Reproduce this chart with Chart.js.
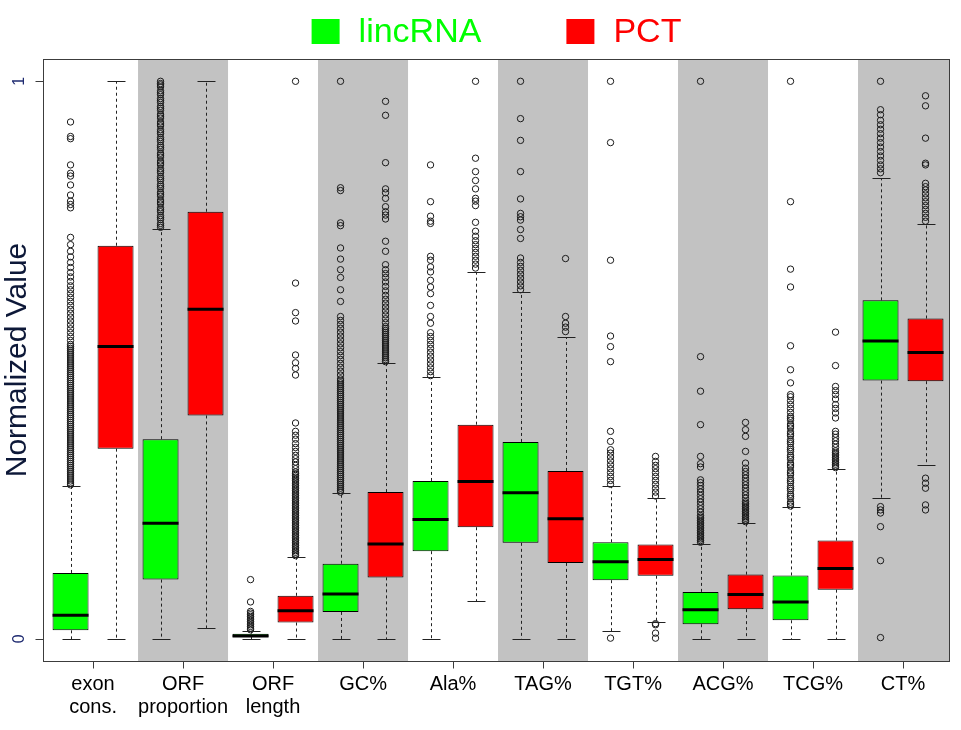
<!DOCTYPE html>
<html>
<head>
<meta charset="utf-8">
<script src="https://cdn.jsdelivr.net/npm/chart.js@4.4.1/dist/chart.umd.min.js"></script>
<style>
  html, body { margin: 0; padding: 0; background: #fff; }
  #wrap { width: 961px; height: 730px; position: relative; }
</style>
</head>
<body>
<div id="wrap"><canvas id="box"></canvas></div>
<script>
// categories (x axis) and legend series
const categories = [['exon', 'cons.'], ['ORF', 'proportion'], ['ORF', 'length'], 'GC%', 'Ala%', 'TAG%', 'TGT%', 'ACG%', 'TCG%', 'CT%'];
const seriesNames = ['lincRNA', 'PCT'];
const yTickValues = [0, 1];

// lincRNA box statistics
const lincQ1     = [0.015, 0.106, 0.003, 0.048, 0.157, 0.172, 0.105, 0.026, 0.033, 0.463];
const lincMedian = [0.042, 0.207, 0.005, 0.080, 0.214, 0.262, 0.138, 0.052, 0.066, 0.534];
const lincQ3     = [0.118, 0.358, 0.009, 0.1345, 0.283, 0.353, 0.173, 0.084, 0.1135, 0.607];
const lincLow    = [0, 0, 0, 0, 0, 0, 0.013, 0, 0, 0.252];
const lincHigh   = [0.274, 0.735, 0.014, 0.261, 0.470, 0.622, 0.274, 0.170, 0.2355, 0.826];

// PCT box statistics
const pctQ1     = [0.341, 0.4005, 0.029, 0.110, 0.200, 0.136, 0.113, 0.053, 0.088, 0.462];
const pctMedian = [0.524, 0.591, 0.050, 0.170, 0.282, 0.215, 0.142, 0.0795, 0.126, 0.5135];
const pctQ3     = [0.705, 0.766, 0.077, 0.263, 0.384, 0.301, 0.169, 0.115, 0.176, 0.5745];
const pctLow    = [0, 0.019, 0, 0, 0.067, 0, 0.030, 0, 0, 0.312];
const pctHigh   = [1.0, 1.0, 0.1465, 0.495, 0.658, 0.541, 0.253, 0.2075, 0.305, 0.744];

// outliers
const lincOutliers = [
  [0.276,0.2795,0.283,0.2865,0.29,0.2935,0.297,0.3005,0.304,0.3075,0.311,0.3145,0.318,0.3215,0.325,0.3285,0.332,0.3355,0.339,0.3425,0.346,0.3495,0.353,0.3565,0.36,0.3635,0.367,0.3705,0.374,0.3775,0.381,0.3845,0.388,0.3915,0.395,0.3985,0.402,0.4055,0.409,0.4125,0.416,0.4195,0.423,0.4265,0.43,0.4335,0.437,0.4405,0.444,0.4475,0.451,0.4545,0.458,0.4615,0.465,0.4685,0.472,0.4755,0.479,0.4825,0.486,0.4895,0.493,0.4965,0.5,0.5035,0.507,0.5105,0.514,0.5175,0.521,0.5245,0.528,0.535,0.542,0.549,0.556,0.563,0.57,0.577,0.584,0.591,0.598,0.605,0.612,0.619,0.626,0.633,0.641,0.649,0.657,0.666,0.675,0.685,0.695,0.707,0.72,0.773,0.779,0.785,0.796,0.814,0.83,0.835,0.85,0.897,0.901,0.927],
  [0.738,0.7415,0.745,0.752,0.7555,0.759,0.766,0.7695,0.773,0.78,0.7835,0.787,0.794,0.7975,0.801,0.808,0.8115,0.815,0.822,0.8255,0.829,0.836,0.8395,0.843,0.85,0.8535,0.857,0.864,0.8675,0.871,0.878,0.8815,0.885,0.892,0.8955,0.899,0.906,0.9095,0.913,0.92,0.9235,0.927,0.934,0.9375,0.941,0.948,0.9515,0.955,0.962,0.9655,0.969,0.976,0.9795,0.983,0.99,0.9935,0.996,1.0],
  [0.016,0.019,0.022,0.025,0.028,0.031,0.034,0.037,0.04,0.043,0.046,0.049,0.066,0.106],
  [0.263,0.2665,0.27,0.2735,0.277,0.2805,0.284,0.2875,0.291,0.2945,0.298,0.3015,0.305,0.3085,0.312,0.3155,0.319,0.3225,0.326,0.3295,0.333,0.3365,0.34,0.3435,0.347,0.3505,0.354,0.3575,0.361,0.3645,0.368,0.3715,0.375,0.3785,0.382,0.3855,0.389,0.3925,0.396,0.3995,0.403,0.4065,0.41,0.4135,0.417,0.4205,0.424,0.4275,0.431,0.4345,0.438,0.4415,0.445,0.4485,0.452,0.4555,0.459,0.4625,0.466,0.473,0.48,0.487,0.494,0.501,0.508,0.515,0.522,0.529,0.536,0.543,0.55,0.557,0.564,0.571,0.578,0.605,0.626,0.648,0.662,0.681,0.701,0.741,0.746,0.804,0.809,1.0],
  [0.472,0.479,0.486,0.493,0.5,0.507,0.514,0.521,0.528,0.535,0.542,0.549,0.566,0.578,0.598,0.619,0.631,0.643,0.658,0.667,0.679,0.686,0.745,0.749,0.758,0.784,0.85],
  [0.626,0.633,0.64,0.647,0.654,0.661,0.668,0.675,0.683,0.718,0.734,0.751,0.757,0.763,0.789,0.838,0.894,0.933,1.0],
  [0.001,0.277,0.284,0.291,0.298,0.305,0.312,0.319,0.326,0.333,0.339,0.354,0.372,0.497,0.524,0.543,0.679,0.89,1.0],
  [0.173,0.176,0.179,0.182,0.185,0.188,0.191,0.194,0.197,0.2,0.203,0.206,0.209,0.212,0.215,0.218,0.221,0.227,0.233,0.239,0.245,0.251,0.257,0.263,0.269,0.275,0.28,0.285,0.308,0.314,0.327,0.384,0.444,0.506,1.0],
  [0.238,0.2415,0.245,0.252,0.2555,0.259,0.266,0.2695,0.273,0.28,0.2835,0.287,0.294,0.2975,0.301,0.308,0.3115,0.315,0.322,0.3255,0.329,0.336,0.3395,0.343,0.35,0.3535,0.357,0.364,0.3675,0.371,0.378,0.3815,0.385,0.392,0.3955,0.399,0.406,0.413,0.42,0.427,0.434,0.438,0.459,0.4825,0.5255,0.631,0.663,0.784,1.0],
  [0.002,0.14,0.201,0.2255,0.231,0.237,0.836,0.843,0.85,0.858,0.866,0.874,0.882,0.89,0.898,0.906,0.914,0.922,0.93,0.94,0.949,1.0]
];
const pctOutliers = [
  [],
  [],
  [0.149,0.152,0.155,0.158,0.161,0.164,0.167,0.17,0.173,0.176,0.179,0.182,0.185,0.188,0.191,0.194,0.197,0.2,0.203,0.206,0.209,0.212,0.215,0.218,0.221,0.224,0.227,0.23,0.233,0.236,0.239,0.242,0.245,0.248,0.251,0.254,0.257,0.26,0.263,0.266,0.269,0.272,0.275,0.278,0.281,0.284,0.287,0.29,0.293,0.296,0.299,0.305,0.311,0.317,0.323,0.329,0.336,0.343,0.35,0.358,0.365,0.372,0.387,0.473,0.485,0.495,0.509,0.57,0.585,0.638,1.0],
  [0.497,0.5005,0.504,0.5075,0.511,0.5145,0.518,0.5215,0.525,0.5285,0.532,0.5355,0.539,0.5425,0.546,0.5495,0.553,0.5565,0.56,0.567,0.574,0.581,0.588,0.595,0.602,0.609,0.616,0.624,0.632,0.64,0.648,0.655,0.662,0.671,0.695,0.713,0.753,0.76,0.766,0.775,0.79,0.8,0.807,0.854,0.939,0.964],
  [0.665,0.672,0.679,0.686,0.693,0.7,0.707,0.714,0.722,0.731,0.747,0.777,0.785,0.79,0.807,0.822,0.838,0.862,1.0],
  [0.551,0.559,0.566,0.578,0.682],
  [0.001,0.01,0.025,0.027,0.256,0.263,0.27,0.277,0.284,0.291,0.298,0.305,0.311,0.318,0.327],
  [0.21,0.213,0.216,0.219,0.222,0.225,0.228,0.231,0.234,0.237,0.24,0.243,0.246,0.252,0.258,0.264,0.27,0.276,0.282,0.288,0.294,0.3,0.306,0.315,0.336,0.363,0.375,0.388],
  [0.307,0.31,0.313,0.316,0.319,0.322,0.325,0.328,0.331,0.334,0.337,0.343,0.349,0.355,0.361,0.367,0.372,0.396,0.405,0.413,0.42,0.43,0.438,0.445,0.4525,0.49,0.55],
  [0.231,0.24,0.27,0.279,0.288,0.749,0.756,0.763,0.77,0.777,0.784,0.791,0.798,0.805,0.811,0.817,0.85,0.853,0.898,0.956,0.974]
];

const GREEN = '#00ff00', RED = '#ff0000', BAND = '#c2c2c2', FRAME = '#3c3c3c';
const FONT = '"Liberation Sans", Arial, sans-serif';
Chart.defaults.font.family = FONT;

const boxSeries = [
  { q1: lincQ1, med: lincMedian, q3: lincQ3, lo: lincLow, hi: lincHigh },
  { q1: pctQ1, med: pctMedian, q3: pctQ3, lo: pctLow, hi: pctHigh },
];

// floating bars = boxes (q1..q3)
const boxData = s => s.q1.map((v, i) => ({ x: i + 1, y: [v, s.q3[i]] }));
// outliers sit on the box centre (grouped bars -> +/- quarter category)
const outlierData = (list, off) => list.flatMap((vals, i) => vals.map(v => ({ x: i + 1 + off, y: v })));

// grey bands behind every second category
const bandsPlugin = {
  id: 'bands',
  beforeDatasetsDraw(chart) {
    const { ctx, chartArea: a, scales: { x } } = chart;
    ctx.save();
    ctx.fillStyle = BAND;
    categories.forEach((c, i) => {
      if (i % 2 === 0) return;
      const k = i + 1;
      const x0 = Math.max(a.left, x.getPixelForValue(k - 0.5));
      const x1 = k === categories.length ? a.right : Math.min(a.right, x.getPixelForValue(k + 0.5));
      ctx.fillRect(x0, a.top, x1 - x0, a.bottom - a.top);
    });
    ctx.restore();
  }
};

// whiskers, caps and medians on top of the boxes
const whiskerPlugin = {
  id: 'whiskers',
  afterDatasetsDraw(chart) {
    const { ctx, scales: { y } } = chart;
    ctx.save();
    boxSeries.forEach((s, si) => {
      const meta = chart.getDatasetMeta(si);
      meta.data.forEach((el, i) => {
        const cx = Math.round(el.x) + 0.5;
        const w = el.width;
        const yq1 = y.getPixelForValue(s.q1[i]), yq3 = y.getPixelForValue(s.q3[i]);
        const ylo = Math.round(y.getPixelForValue(s.lo[i])) + 0.5;
        const yhi = Math.round(y.getPixelForValue(s.hi[i])) + 0.5;
        ctx.strokeStyle = '#222';
        ctx.lineWidth = 1;
        ctx.setLineDash([3, 3]);
        ctx.beginPath();
        if (yhi < yq3 - 1) { ctx.moveTo(cx, yq3); ctx.lineTo(cx, yhi); }
        if (ylo > yq1 + 1) { ctx.moveTo(cx, yq1); ctx.lineTo(cx, ylo); }
        ctx.stroke();
        ctx.setLineDash([]);
        ctx.beginPath();
        ctx.moveTo(cx - w / 4, yhi); ctx.lineTo(cx + w / 4, yhi);
        ctx.moveTo(cx - w / 4, ylo); ctx.lineTo(cx + w / 4, ylo);
        ctx.stroke();
        ctx.strokeStyle = '#000';
        ctx.lineWidth = 3;
        const ym = y.getPixelForValue(s.med[i]);
        ctx.beginPath();
        ctx.moveTo(el.x - w / 2, ym); ctx.lineTo(el.x + w / 2, ym);
        ctx.stroke();
      });
    });
    ctx.restore();
  }
};

// frame, tick marks and the legend above the plot
const framePlugin = {
  id: 'frameLegend',
  afterDraw(chart) {
    const { ctx, chartArea: a, scales: { x, y } } = chart;
    ctx.save();
    ctx.strokeStyle = FRAME;
    ctx.lineWidth = 1;
    const L = Math.round(a.left) + 0.5, T = Math.round(a.top) + 0.5;
    const R = Math.round(a.right) - 0.5, B = Math.round(a.bottom) + 0.5;
    ctx.strokeRect(L, T, R - L, B - T);
    ctx.beginPath();
    x.ticks.forEach(t => {
      const px = Math.round(x.getPixelForValue(t.value)) + 0.5;
      ctx.moveTo(px, B); ctx.lineTo(px, B + 7);
    });
    y.ticks.forEach(t => {
      const py = Math.round(y.getPixelForValue(t.value)) + 0.5;
      ctx.moveTo(L - 8, py); ctx.lineTo(L, py);
    });
    ctx.stroke();

    const items = chart.data.datasets.filter(d => d.type === 'bar');
    ctx.font = '34px ' + FONT;
    ctx.textBaseline = 'alphabetic';
    const box = 28, gap = 19, itemGap = 85;
    const widths = items.map(d => box + gap + ctx.measureText(d.label).width);
    const total = widths.reduce((p, q) => p + q, 0) + itemGap * (items.length - 1);
    let lx = (a.left + a.right) / 2 - total / 2;
    items.forEach((d, i) => {
      ctx.fillStyle = d.backgroundColor;
      ctx.fillRect(lx, 19, box, 25);
      ctx.fillText(d.label, lx + box + gap, 42);
      lx += widths[i] + itemGap;
    });
    ctx.restore();
  }
};

const outlierStyle = {
  type: 'scatter', pointRadius: 3.2, pointHoverRadius: 3.2, borderWidth: 1,
  borderColor: '#1a1a1a', backgroundColor: 'rgba(0,0,0,0)', pointStyle: 'circle'
};

new Chart(document.getElementById('box'), {
  type: 'bar',
  data: {
    datasets: [
      { type: 'bar', label: seriesNames[0], data: boxData(boxSeries[0]), backgroundColor: GREEN, borderColor: '#000', borderWidth: 1, borderSkipped: false },
      { type: 'bar', label: seriesNames[1], data: boxData(boxSeries[1]), backgroundColor: RED, borderColor: '#000', borderWidth: 1, borderSkipped: false },
      Object.assign({ label: seriesNames[0] + ' outliers', data: outlierData(lincOutliers, -0.25) }, outlierStyle),
      Object.assign({ label: seriesNames[1] + ' outliers', data: outlierData(pctOutliers, 0.25) }, outlierStyle),
    ]
  },
  options: {
    responsive: true,
    maintainAspectRatio: false,
    animation: false,
    layout: { padding: { top: 59, right: 11, left: 0, bottom: 0 } },
    datasets: { bar: { categoryPercentage: 1.0, barPercentage: 0.8, grouped: true } },
    plugins: { legend: { display: false }, tooltip: { enabled: false } },
    scales: {
      x: {
        type: 'linear', min: 0.444, max: 10.522, offset: false,
        afterBuildTicks: s => { s.ticks = categories.map((c, i) => ({ value: i + 1 })); },
        afterFit: s => { s.height = 69; },
        grid: { display: false, offset: false, drawTicks: true, tickLength: 7 },
        border: { display: false },
        ticks: {
          color: '#000', font: { size: 20, lineHeight: 1.15 }, padding: 5, maxRotation: 0, autoSkip: false,
          callback: v => categories[v - 1]
        }
      },
      y: {
        type: 'linear', min: -0.04, max: 1.04,
        afterBuildTicks: s => { s.ticks = yTickValues.map(v => ({ value: v })); },
        afterFit: s => { s.width = 43; },
        grid: { display: false, offset: false, drawTicks: true, tickLength: 8 },
        border: { display: false },
        ticks: { color: '#1e2a70', font: { size: 16 }, minRotation: 90, maxRotation: 90, padding: 11, crossAlign: 'center' },
        title: { display: true, text: 'Normalized Value', color: '#0d1838', font: { size: 30 }, padding: { top: 0, bottom: 0 } }
      }
    }
  },
  plugins: [bandsPlugin, whiskerPlugin, framePlugin]
});
</script>
</body>
</html>
